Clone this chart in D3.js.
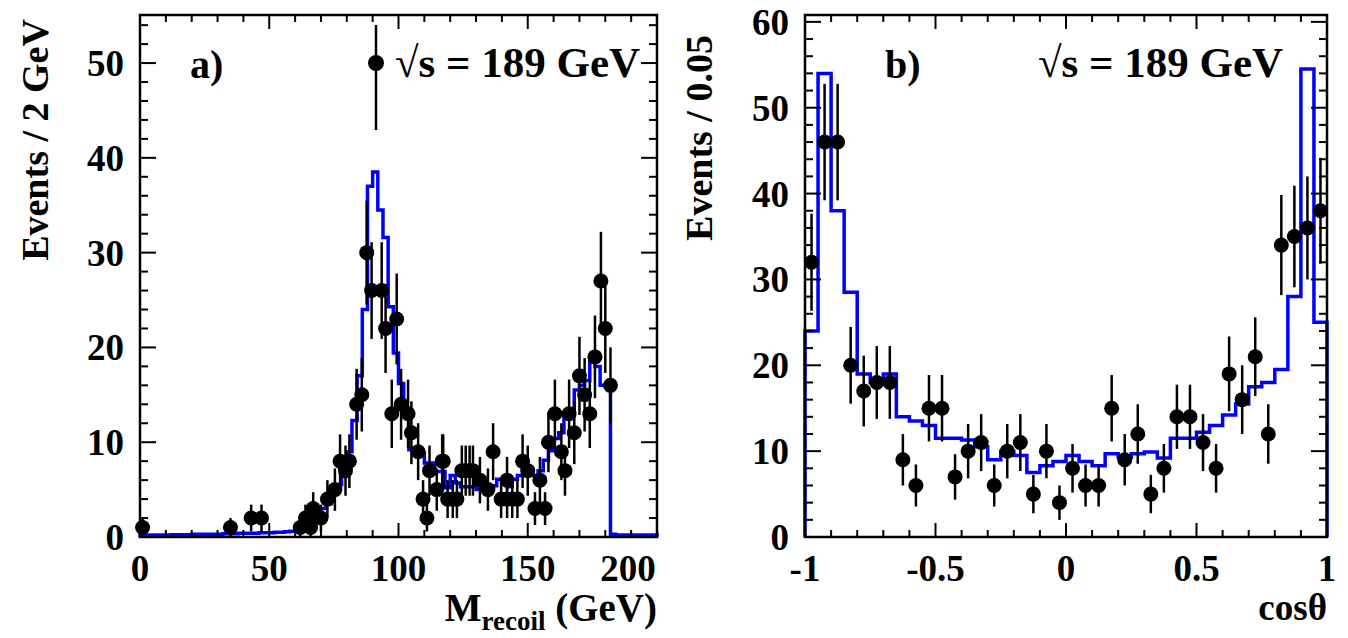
<!DOCTYPE html>
<html><head><meta charset="utf-8">
<script src="https://cdn.jsdelivr.net/npm/d3@7"></script>
<style>body{margin:0;background:#fff}svg text{font-family:"Liberation Serif","Times New Roman",serif;font-weight:bold}</style>
</head><body><svg id="c" width="1348" height="638"></svg>
<script>
// ---- Panel a: recoil mass ----
const aDataX = [1,35,43,47,62,64,66,67,70,72.5,75.4,77.4,79.5,81,83.8,85.8,87.7,89.6,93.5,95,97.4,99.3,101,103.7,105,107.6,109.5,111,112,114.8,116.9,117.3,119,121,122.6,124.5,126,127.5,128.8,131.5,134.6,136.6,139.7,142,142,144,146,148,150,152.8,154.7,156.7,158,160.5,163,164.4,166,168,170,172,174,176,178.3,180,182];
const aDataY = [1,1,2,2,1,2,1,3,2,4,5,8,7,8,14,15,30,26,26,22,13,23,14,13,11,9,4,2,7,5,8,8,4,4,4,7,7,7,7,6,5,9,4,6,4,4,4,8,7,3,6,3,10,13,9,7,13,11,17,15,13,19,27,22,16];
const aMC = [0.2,0.2,0.2,0.2,0.2,0.2,0.25,0.25,0.25,0.25,0.3,0.3,0.3,0.3,0.3,0.3,0.35,0.35,0.35,0.4,0.4,0.4,0.4,0.45,0.45,0.45,0.5,0.5,0.55,0.6,
  0.8,1,1.5,2,2.5,3,3.5,4.5,5.5,7,9,12.3,17,24,37,38.5,34.5,31.6,24.3,19.4,16.2,13,9.2,8.8,8.8,7.8,7.8,6.9,6.9,5.2,
  6.5,5.7,5.3,5.3,5.3,5,5.4,5.4,5.4,6.1,5.6,5.3,6.1,6.5,7,6.5,6.5,7,8.1,9.1,10.4,11,13,13.5,15.5,16,16.5,19,18,16,16,
  0.3,0.2,0.2,0.2,0.2,0.2,0.2,0.2,0.2];
const aBinW = 2;
// ---- Panel b: cos theta ----
const bDataX = [-0.975,-0.925,-0.875,-0.825,-0.775,-0.725,-0.675,-0.625,-0.575,-0.525,-0.475,-0.425,-0.375,-0.325,-0.275,-0.225,-0.175,-0.125,-0.075,-0.025,0.025,0.075,0.125,0.175,0.225,0.275,0.325,0.375,0.425,0.475,0.525,0.575,0.625,0.675,0.725,0.775,0.825,0.875,0.925,0.975];
const bDataY = [32,46,46,20,17,18,18,9,6,15,15,7,10,11,6,10,11,5,10,4,8,6,6,15,9,12,5,8,14,14,11,8,19,16,21,12,34,35,36,38];
const bMC = [24,54,38,28.5,19,18,19,14,13.5,13,11.5,11.5,11.3,10.5,9,10,9.5,7.5,8.3,8.8,9.5,8.8,8.3,9.7,9.3,9.7,9.9,9.2,11.5,11.5,12.2,13,14.2,15.5,17.5,18,19.5,28,54.5,25];
const bBinW = 0.05;
const aXTicks = [0,50,100,150,200], aYTicks=[0,10,20,30,40,50];
const bXTicks = [-1,-0.5,0,0.5,1], bYTicks=[0,10,20,30,40,50,60];

const svg = d3.select("#c");
const yTop=15, yBot=537;

function panel(o){
  const x = d3.scaleLinear().domain(o.xd).range([o.l,o.r]);
  const y = d3.scaleLinear().domain(o.yd).range([yBot,yTop]);
  const g = svg.append("g");
  const pts=[];
  o.mc.forEach((v,i)=>{const x0=o.xd[0]+i*o.bw; pts.push([x0,v],[x0+o.bw,v]);});
  const first=[o.xd[0],0], last=[o.xd[1],0];
  g.append("path").attr("d",d3.line().x(d=>x(d[0])).y(d=>y(d[1]))([first,...pts,last]))
    .attr("fill","none").attr("stroke","#0000ff").attr("stroke-width",3.5);
  o.dx.forEach((xv,i)=>{const v=o.dy[i], e=Math.sqrt(v);
    g.append("line").attr("x1",x(xv)).attr("x2",x(xv)).attr("y1",y(v+e)).attr("y2",y(Math.max(0,v-e))).attr("stroke","#000").attr("stroke-width",2.5);
    g.append("circle").attr("cx",x(xv)).attr("cy",y(v)).attr("r",7.5).attr("fill","#000");
  });
  g.append("rect").attr("x",o.l).attr("y",yTop).attr("width",o.r-o.l).attr("height",yBot-yTop).attr("fill","none").attr("stroke","#000").attr("stroke-width",2.5);
  const xMaj=o.xt, xMin=d3.range(o.xd[0],o.xd[1]+1e-9,o.xminor);
  const yMin=d3.range(0,o.yd[1]+1e-9,o.yminor);
  xMin.forEach(t=>{const L=xMaj.some(m=>Math.abs(m-t)<1e-6)?14:7;
    g.append("line").attr("x1",x(t)).attr("x2",x(t)).attr("y1",yBot).attr("y2",yBot-L).attr("stroke","#000").attr("stroke-width",2);
    g.append("line").attr("x1",x(t)).attr("x2",x(t)).attr("y1",yTop).attr("y2",yTop+L).attr("stroke","#000").attr("stroke-width",2);});
  yMin.forEach(t=>{const L=o.yt.some(m=>Math.abs(m-t)<1e-6)?16:8;
    g.append("line").attr("x1",o.l).attr("x2",o.l+L).attr("y1",y(t)).attr("y2",y(t)).attr("stroke","#000").attr("stroke-width",2);
    g.append("line").attr("x1",o.r).attr("x2",o.r-L).attr("y1",y(t)).attr("y2",y(t)).attr("stroke","#000").attr("stroke-width",2);});
  xMaj.forEach((t,i)=>{const isLast=i===xMaj.length-1;
    g.append("text").attr("x",isLast?x(t)-(o.lastShift||0):x(t)).attr("y",581).attr("text-anchor","middle").attr("font-size",37).text(o.fmtX(t));});
  o.yt.forEach(t=>g.append("text").attr("x",o.l-16).attr("y",y(t)+13).attr("text-anchor","end").attr("font-size",37).text(t));
  return {g,x,y};
}
panel({l:140,r:657,xd:[0,200],yd:[0,55.07],mc:aMC,bw:aBinW,dx:aDataX,dy:aDataY,xt:aXTicks,yt:aYTicks,xminor:10,yminor:2,fmtX:d=>d,lastShift:29});
panel({l:805,r:1327,xd:[-1,1],yd:[0,60.8],mc:bMC,bw:bBinW,dx:bDataX,dy:bDataY,xt:bXTicks,yt:bYTicks,xminor:0.1,yminor:2,fmtX:d=>d,lastShift:0});

svg.append("text").attr("transform","translate(48,140) rotate(-90)").attr("text-anchor","middle").attr("font-size",38).text("Events / 2 GeV");
svg.append("text").attr("transform","translate(712,138) rotate(-90)").attr("text-anchor","middle").attr("font-size",38).text("Events / 0.05");
const xt=svg.append("text").attr("x",657).attr("y",621).attr("text-anchor","end").attr("font-size",39);
xt.append("tspan").text("M");
xt.append("tspan").attr("font-size",27).attr("dy",9).text("recoil");
xt.append("tspan").attr("dy",-9).text(" (GeV)");
svg.append("text").attr("x",1327).attr("y",620).attr("text-anchor","end").attr("font-size",37).text("cosθ");
svg.append("text").attr("x",190).attr("y",78).attr("font-size",40).text("a)");
svg.append("text").attr("x",885).attr("y",78).attr("font-size",40).text("b)");
svg.append("line").attr("x1",376).attr("x2",376).attr("y1",25).attr("y2",130).attr("stroke","#000").attr("stroke-width",2.5);
svg.append("circle").attr("cx",376).attr("cy",63).attr("r",8).attr("fill","#000");
svg.append("text").attr("x",395).attr("y",77).attr("font-size",43).text("√s = 189 GeV");
svg.append("text").attr("x",1038).attr("y",77).attr("font-size",43).text("√s = 189 GeV");
</script></body></html>
